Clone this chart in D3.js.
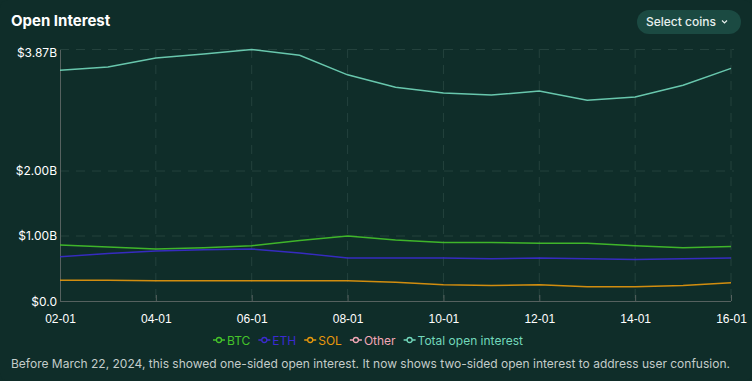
<!DOCTYPE html>
<html><head><meta charset="utf-8">
<script src="https://cdn.jsdelivr.net/npm/d3@7"></script>
<style>
html,body{margin:0;padding:0;background:#0f2d29;}
svg{display:block;font-family:Inter,"Noto Sans",sans-serif;}
</style></head><body>
<svg id="c" width="752" height="381"></svg>
<script>
const days = ["02-01","03-01","04-01","05-01","06-01","07-01","08-01","09-01","10-01","11-01","12-01","13-01","14-01","15-01","16-01"];
const xTickLabels = ["02-01","04-01","06-01","08-01","10-01","12-01","14-01","16-01"];
const btc   = [0.86,0.83,0.80,0.82,0.85,0.93,1.00,0.94,0.90,0.90,0.89,0.89,0.85,0.82,0.84];
const eth   = [0.68,0.73,0.77,0.79,0.80,0.74,0.66,0.66,0.66,0.65,0.66,0.65,0.64,0.65,0.66];
const sol   = [0.32,0.32,0.31,0.31,0.31,0.31,0.31,0.29,0.25,0.24,0.25,0.22,0.22,0.24,0.28];
const other = [];
const total = [3.55,3.60,3.74,3.80,3.87,3.78,3.48,3.29,3.20,3.17,3.23,3.09,3.14,3.32,3.58];
const yTicks = [0,1,2,3.87];
const yTickLabels = ["$0.0","$1.00B","$2.00B","$3.87B"];
const seriesNames = ["BTC","ETH","SOL","Other","Total open interest"];
const seriesColors = ["#45c42a","#3b2bd0","#e8980c","#f2a7b6","#72d8bb"];
const seriesData = [btc,eth,sol,other,total];

const svg = d3.select("#c");
const W=752,H=381;
svg.append("rect").attr("width",W).attr("height",H).attr("rx",8).attr("fill","#0f2d29");

svg.append("text").attr("x",11).attr("y",25.5).attr("fill","#ffffff")
  .attr("font-size",15).attr("font-weight",700).text("Open Interest");

// button
const bg = svg.append("g");
bg.append("rect").attr("x",637).attr("y",10).attr("width",104).attr("height",24).attr("rx",12).attr("fill","#1b4a42");
bg.append("text").attr("x",646).attr("y",26).attr("fill","#e8f0ee").attr("font-size",12).attr("font-weight",500).text("Select coins");
bg.append("path").attr("d","M722,20.5 l2.5,2.5 l2.5,-2.5").attr("fill","none").attr("stroke","#e8f0ee").attr("stroke-width",1.2);

const x = d3.scalePoint().domain(days).range([60,731]);
const y = d3.scaleLinear().domain([0,3.87]).range([301,49.5]);

const grid = svg.append("g");
yTicks.slice(1).forEach(t=>{
  grid.append("line").attr("x1",60).attr("x2",734).attr("y1",y(t)).attr("y2",y(t))
    .attr("stroke","#24423d").attr("stroke-dasharray","9,7").attr("stroke-width",1);
});
xTickLabels.slice(1).forEach(t=>{
  grid.append("line").attr("x1",x(t)).attr("x2",x(t)).attr("y1",49).attr("y2",301)
    .attr("stroke","#24423d").attr("stroke-dasharray","9,7").attr("stroke-width",1);
});

// axes
const xAxis = d3.axisBottom(x).tickValues(xTickLabels).tickSize(6).tickSizeOuter(0);
const gx = svg.append("g").attr("transform","translate(0,301)").call(xAxis);
gx.select(".domain").attr("stroke","#56615f").attr("d","M60,0.5H731");
gx.selectAll(".tick line").attr("stroke","#56615f").attr("y1",-6).attr("y2",0);
gx.selectAll(".tick text").attr("fill","#ffffff").attr("font-size",12).attr("dy","0.71em").attr("y",13);

const yAxis = d3.axisLeft(y).tickValues(yTicks).tickFormat((d,i)=>yTickLabels[i]).tickSize(0).tickPadding(3);
const gy = svg.append("g").attr("transform","translate(60,0)").call(yAxis);
gy.select(".domain").attr("stroke","#56615f");
gy.selectAll(".tick text").attr("fill","#ffffff").attr("font-size",12).attr("font-family","Inter,sans-serif");
gy.selectAll(".tick").filter(d=>d===3.87).select("text").attr("dy","0.6em");
gy.selectAll(".tick").filter(d=>d===0).select("text").attr("dy","0.35em");

const line = d3.line().x((d,i)=>x(days[i])).y(d=>y(d));
seriesData.forEach((s,i)=>{
  if(!s.length) return;
  svg.append("path").datum(s).attr("d",line).attr("fill","none")
    .attr("stroke",seriesColors[i]).attr("stroke-width",1.5).attr("stroke-opacity",0.9);
});

// legend (centered)
const lg = svg.append("g").attr("font-size",12);
let lx = 0;
seriesNames.forEach((n,i)=>{
  const g = lg.append("g").attr("transform",`translate(${lx},340)`);
  g.append("line").attr("x1",0).attr("x2",12).attr("y1",0).attr("y2",0).attr("stroke",seriesColors[i]).attr("stroke-width",1.5);
  g.append("circle").attr("cx",6).attr("cy",0).attr("r",2.5).attr("fill","#0f2d29").attr("stroke",seriesColors[i]).attr("stroke-width",1.3);
  const t = g.append("text").attr("x",14).attr("y",4.5).attr("fill",seriesColors[i]).text(n);
  const w = 14 + t.node().getComputedTextLength();
  lx += w + (i < seriesNames.length-1 ? 8 : 0);
});
lg.attr("transform",`translate(${368 - lx/2},0)`);

svg.append("text").attr("x",11).attr("y",368).attr("fill","#c3ccca").attr("font-size",12)
  .text("Before March 22, 2024, this showed one-sided open interest. It now shows two-sided open interest to address user confusion.");
</script>
</body></html>
